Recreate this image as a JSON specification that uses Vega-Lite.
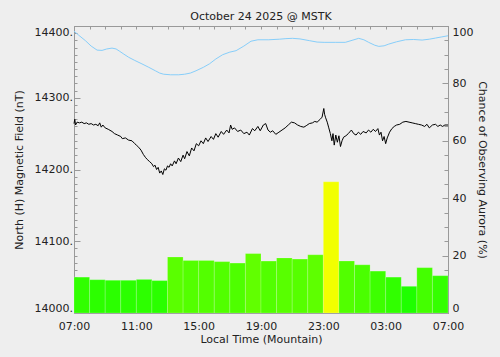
{
  "$schema": "https://vega.github.io/schema/vega-lite/v6.json",
  "width": 374,
  "height": 287,
  "autosize": {"type": "none"},
  "padding": {"left": 74, "top": 26, "right": 52, "bottom": 44},
  "background": "#eeeeee",
  "title": {"text": "October 24 2025 @ MSTK", "font": "DejaVu Sans", "fontSize": 11, "fontWeight": "normal", "color": "#222222", "anchor": "middle", "offset": 4},
  "config": {
    "view": {"stroke": null},
    "axis": {"labelFont": "DejaVu Sans", "titleFont": "DejaVu Sans", "labelFontSize": 11, "titleFontSize": 11, "titleFontWeight": "normal", "labelColor": "#222222", "titleColor": "#222222", "domainColor": "#999999", "tickColor": "#999999", "grid": false}
  },
  "datasets": {
    "bars": [
      {"h": 0, "h2": 1, "pct": 12.5}, {"h": 1, "h2": 2, "pct": 11.6}, {"h": 2, "h2": 3, "pct": 11.4}, {"h": 3, "h2": 4, "pct": 11.4},
      {"h": 4, "h2": 5, "pct": 11.7}, {"h": 5, "h2": 6, "pct": 11.3}, {"h": 6, "h2": 7, "pct": 19.5}, {"h": 7, "h2": 8, "pct": 18.3},
      {"h": 8, "h2": 9, "pct": 18.3}, {"h": 9, "h2": 10, "pct": 17.9}, {"h": 10, "h2": 11, "pct": 17.4}, {"h": 11, "h2": 12, "pct": 20.7},
      {"h": 12, "h2": 13, "pct": 18.1}, {"h": 13, "h2": 14, "pct": 19.2}, {"h": 14, "h2": 15, "pct": 18.8}, {"h": 15, "h2": 16, "pct": 20.3},
      {"h": 16, "h2": 17, "pct": 45.7}, {"h": 17, "h2": 18, "pct": 18.1}, {"h": 18, "h2": 19, "pct": 16.8}, {"h": 19, "h2": 20, "pct": 14.6},
      {"h": 20, "h2": 21, "pct": 12.5}, {"h": 21, "h2": 22, "pct": 9.3}, {"h": 22, "h2": 23, "pct": 15.8}, {"h": 23, "h2": 24, "pct": 13.0}
    ],
    "cyan": [
      {"h": 0, "pct": 98.2}, {"h": 0.3, "pct": 96.8}, {"h": 0.73, "pct": 94.9}, {"h": 1.1, "pct": 93.0}, {"h": 1.48, "pct": 91.6},
      {"h": 1.8, "pct": 91.5}, {"h": 2.1, "pct": 92.0}, {"h": 2.44, "pct": 92.3}, {"h": 2.7, "pct": 92.0}, {"h": 2.9, "pct": 91.3},
      {"h": 3.2, "pct": 90.2}, {"h": 3.51, "pct": 89.1}, {"h": 3.9, "pct": 88.0}, {"h": 4.36, "pct": 86.8}, {"h": 4.8, "pct": 85.6},
      {"h": 5.22, "pct": 84.4}, {"h": 5.5, "pct": 83.6}, {"h": 5.75, "pct": 83.2}, {"h": 6.2, "pct": 83.0}, {"h": 6.72, "pct": 83.0},
      {"h": 7.1, "pct": 83.2}, {"h": 7.47, "pct": 83.6}, {"h": 7.83, "pct": 84.4}, {"h": 8.3, "pct": 85.6}, {"h": 8.69, "pct": 86.8},
      {"h": 9.1, "pct": 88.5}, {"h": 9.54, "pct": 90.0}, {"h": 10.0, "pct": 90.9}, {"h": 10.4, "pct": 91.4}, {"h": 10.9, "pct": 93.0},
      {"h": 11.36, "pct": 94.7}, {"h": 11.8, "pct": 95.2}, {"h": 12.5, "pct": 95.2}, {"h": 13.18, "pct": 95.4}, {"h": 13.6, "pct": 95.6},
      {"h": 14.03, "pct": 95.7}, {"h": 14.5, "pct": 95.5}, {"h": 15.1, "pct": 94.9}, {"h": 15.6, "pct": 94.4}, {"h": 16.05, "pct": 94.3},
      {"h": 16.8, "pct": 94.3}, {"h": 17.41, "pct": 94.3}, {"h": 17.9, "pct": 95.1}, {"h": 18.27, "pct": 95.7}, {"h": 18.6, "pct": 95.2},
      {"h": 18.91, "pct": 94.3}, {"h": 19.3, "pct": 93.3}, {"h": 19.56, "pct": 92.9}, {"h": 19.9, "pct": 93.1}, {"h": 20.2, "pct": 93.7},
      {"h": 20.7, "pct": 94.5}, {"h": 21.27, "pct": 95.2}, {"h": 21.8, "pct": 95.3}, {"h": 22.34, "pct": 95.1}, {"h": 22.8, "pct": 95.4},
      {"h": 23.2, "pct": 95.8}, {"h": 23.6, "pct": 96.2}, {"h": 24, "pct": 96.6}
    ],
    "field": [
      {"h": 0.0, "nT": 14264}, {"h": 0.05, "nT": 14270}, {"h": 0.1, "nT": 14262}, {"h": 0.2, "nT": 14266}, {"h": 0.35, "nT": 14265},
      {"h": 0.5, "nT": 14266}, {"h": 0.65, "nT": 14264}, {"h": 0.8, "nT": 14265}, {"h": 0.95, "nT": 14263}, {"h": 1.1, "nT": 14264},
      {"h": 1.25, "nT": 14262}, {"h": 1.4, "nT": 14263}, {"h": 1.55, "nT": 14261}, {"h": 1.65, "nT": 14265}, {"h": 1.75, "nT": 14259},
      {"h": 1.85, "nT": 14262}, {"h": 2.0, "nT": 14258}, {"h": 2.2, "nT": 14256}, {"h": 2.44, "nT": 14253}, {"h": 2.6, "nT": 14250},
      {"h": 2.8, "nT": 14248}, {"h": 3.0, "nT": 14246}, {"h": 3.1, "nT": 14243}, {"h": 3.3, "nT": 14244}, {"h": 3.5, "nT": 14241},
      {"h": 3.72, "nT": 14240}, {"h": 3.9, "nT": 14236}, {"h": 4.0, "nT": 14234}, {"h": 4.15, "nT": 14231}, {"h": 4.3, "nT": 14227},
      {"h": 4.45, "nT": 14221}, {"h": 4.58, "nT": 14217}, {"h": 4.7, "nT": 14214}, {"h": 4.85, "nT": 14211}, {"h": 5.0, "nT": 14208},
      {"h": 5.1, "nT": 14204}, {"h": 5.2, "nT": 14206}, {"h": 5.3, "nT": 14200}, {"h": 5.4, "nT": 14203}, {"h": 5.5, "nT": 14195},
      {"h": 5.6, "nT": 14198}, {"h": 5.7, "nT": 14193}, {"h": 5.8, "nT": 14201}, {"h": 5.9, "nT": 14199}, {"h": 6.0, "nT": 14205},
      {"h": 6.1, "nT": 14203}, {"h": 6.2, "nT": 14208}, {"h": 6.3, "nT": 14205}, {"h": 6.45, "nT": 14212}, {"h": 6.55, "nT": 14208},
      {"h": 6.7, "nT": 14216}, {"h": 6.85, "nT": 14211}, {"h": 7.0, "nT": 14220}, {"h": 7.1, "nT": 14215}, {"h": 7.25, "nT": 14225},
      {"h": 7.4, "nT": 14219}, {"h": 7.55, "nT": 14230}, {"h": 7.7, "nT": 14226}, {"h": 7.85, "nT": 14236}, {"h": 8.0, "nT": 14233},
      {"h": 8.15, "nT": 14240}, {"h": 8.3, "nT": 14236}, {"h": 8.45, "nT": 14244}, {"h": 8.6, "nT": 14239}, {"h": 8.8, "nT": 14246},
      {"h": 8.95, "nT": 14242}, {"h": 9.1, "nT": 14250}, {"h": 9.25, "nT": 14245}, {"h": 9.45, "nT": 14253}, {"h": 9.6, "nT": 14249},
      {"h": 9.8, "nT": 14255}, {"h": 9.95, "nT": 14251}, {"h": 10.05, "nT": 14262}, {"h": 10.15, "nT": 14256}, {"h": 10.3, "nT": 14258},
      {"h": 10.5, "nT": 14253}, {"h": 10.7, "nT": 14255}, {"h": 10.9, "nT": 14250}, {"h": 11.1, "nT": 14252}, {"h": 11.25, "nT": 14248},
      {"h": 11.45, "nT": 14257}, {"h": 11.6, "nT": 14254}, {"h": 11.8, "nT": 14260}, {"h": 11.95, "nT": 14254}, {"h": 12.15, "nT": 14262},
      {"h": 12.3, "nT": 14264}, {"h": 12.45, "nT": 14255}, {"h": 12.6, "nT": 14252}, {"h": 12.75, "nT": 14254}, {"h": 12.95, "nT": 14249},
      {"h": 13.15, "nT": 14252}, {"h": 13.35, "nT": 14255}, {"h": 13.55, "nT": 14258}, {"h": 13.75, "nT": 14262}, {"h": 13.95, "nT": 14266},
      {"h": 14.15, "nT": 14265}, {"h": 14.35, "nT": 14262}, {"h": 14.55, "nT": 14260}, {"h": 14.75, "nT": 14259}, {"h": 14.9, "nT": 14261},
      {"h": 15.1, "nT": 14264}, {"h": 15.3, "nT": 14265}, {"h": 15.45, "nT": 14267}, {"h": 15.6, "nT": 14266}, {"h": 15.8, "nT": 14270},
      {"h": 15.92, "nT": 14273}, {"h": 16.03, "nT": 14285}, {"h": 16.08, "nT": 14277}, {"h": 16.15, "nT": 14272}, {"h": 16.25, "nT": 14266},
      {"h": 16.35, "nT": 14258}, {"h": 16.45, "nT": 14250}, {"h": 16.55, "nT": 14240}, {"h": 16.62, "nT": 14250}, {"h": 16.7, "nT": 14234},
      {"h": 16.8, "nT": 14248}, {"h": 16.9, "nT": 14238}, {"h": 17.0, "nT": 14247}, {"h": 17.1, "nT": 14232}, {"h": 17.2, "nT": 14240},
      {"h": 17.3, "nT": 14245}, {"h": 17.45, "nT": 14247}, {"h": 17.6, "nT": 14250}, {"h": 17.8, "nT": 14255}, {"h": 17.95, "nT": 14250},
      {"h": 18.1, "nT": 14248}, {"h": 18.25, "nT": 14252}, {"h": 18.4, "nT": 14249}, {"h": 18.55, "nT": 14253}, {"h": 18.75, "nT": 14251},
      {"h": 18.9, "nT": 14255}, {"h": 19.05, "nT": 14252}, {"h": 19.2, "nT": 14256}, {"h": 19.35, "nT": 14253}, {"h": 19.5, "nT": 14257},
      {"h": 19.6, "nT": 14248}, {"h": 19.7, "nT": 14252}, {"h": 19.8, "nT": 14240}, {"h": 19.9, "nT": 14246}, {"h": 20.0, "nT": 14236},
      {"h": 20.1, "nT": 14244}, {"h": 20.25, "nT": 14252}, {"h": 20.4, "nT": 14257}, {"h": 20.55, "nT": 14260}, {"h": 20.7, "nT": 14262},
      {"h": 20.9, "nT": 14263}, {"h": 21.1, "nT": 14266}, {"h": 21.3, "nT": 14267}, {"h": 21.5, "nT": 14266}, {"h": 21.7, "nT": 14265},
      {"h": 21.9, "nT": 14264}, {"h": 22.1, "nT": 14263}, {"h": 22.3, "nT": 14262}, {"h": 22.5, "nT": 14260}, {"h": 22.65, "nT": 14263},
      {"h": 22.8, "nT": 14258}, {"h": 23.0, "nT": 14262}, {"h": 23.2, "nT": 14263}, {"h": 23.35, "nT": 14260}, {"h": 23.5, "nT": 14262},
      {"h": 23.65, "nT": 14260}, {"h": 23.8, "nT": 14262}, {"h": 24.0, "nT": 14262}
    ]
  },
  "layer": [
    {
      "data": {"name": "bars"},
      "mark": {"type": "rect", "stroke": "#ffffff", "strokeOpacity": 0.3, "strokeWidth": 0.6},
      "encoding": {
        "x": {"field": "h", "type": "quantitative", "scale": {"domain": [0, 24], "nice": false},
          "axis": {"orient": "bottom", "values": [0, 4, 8, 12, 16, 20, 24], "ticks": false, "labelPadding": 7, "labelFlush": false,
            "labelExpr": "(((datum.value+7)%24)<10?'0':'')+((datum.value+7)%24)+':00'", "title": "Local Time (Mountain)", "titlePadding": 2}},
        "x2": {"field": "h2"},
        "y": {"field": "pct", "type": "quantitative", "scale": {"domain": [0, 100], "nice": false},
          "axis": {"orient": "right", "values": [0, 20, 40, 60, 80, 100], "tickSize": -6, "labelPadding": 10, "labelFlush": true,
            "title": "Chance of Observing Aurora (%)", "titleAngle": 90, "titlePadding": 4}},
        "y2": {"datum": 0},
        "color": {"field": "pct", "type": "quantitative", "scale": {"domain": [4, 48], "range": ["#00ff00", "#ffff00"], "interpolate": "rgb"}, "legend": null}
      }
    },
    {
      "data": {"name": "cyan"},
      "mark": {"type": "line", "color": "#87cefa", "strokeWidth": 1},
      "encoding": {
        "x": {"field": "h", "type": "quantitative", "scale": {"domain": [0, 24], "nice": false},
          "axis": {"orient": "top", "values": [0, 1, 2, 3, 4, 5, 6, 7, 8, 9, 10, 11, 12, 13, 14, 15, 16, 17, 18, 19, 20, 21, 22, 23, 24], "labels": false, "tickSize": -3, "title": null}},
        "y": {"field": "pct", "type": "quantitative", "scale": {"domain": [0, 100], "nice": false},
          "axis": {"orient": "right", "values": [5, 10, 15, 25, 30, 35, 45, 50, 55, 65, 70, 75, 85, 90, 95], "labels": false, "tickSize": -4, "title": null}}
      }
    },
    {
      "data": {"name": "field"},
      "mark": {"type": "line", "color": "#000000", "strokeWidth": 1},
      "encoding": {
        "x": {"field": "h", "type": "quantitative", "scale": {"domain": [0, 24], "nice": false}, "axis": null},
        "y": {"field": "nT", "type": "quantitative", "scale": {"domain": [14000, 14400], "nice": false, "zero": false},
          "axis": {"orient": "left", "values": [14000, 14100, 14200, 14300, 14400], "tickSize": -6, "labelPadding": 7.5, "labelFlush": true,
            "labelExpr": "datum.value + '.'", "title": "North (H) Magnetic Field (nT)", "titlePadding": 10}}
      }
    },
    {
      "data": {"name": "field"},
      "mark": {"type": "point", "opacity": 0},
      "encoding": {
        "x": {"field": "h", "type": "quantitative", "scale": {"domain": [0, 24], "nice": false}, "axis": null},
        "y": {"field": "nT", "type": "quantitative", "scale": {"domain": [14000, 14400], "nice": false, "zero": false},
          "axis": {"orient": "left", "values": [14010, 14020, 14030, 14040, 14050, 14060, 14070, 14080, 14090, 14110, 14120, 14130, 14140, 14150, 14160, 14170, 14180, 14190, 14210, 14220, 14230, 14240, 14250, 14260, 14270, 14280, 14290, 14310, 14320, 14330, 14340, 14350, 14360, 14370, 14380, 14390], "labels": false, "tickSize": -3, "title": null}}
      }
    }
  ],
  "resolve": {"scale": {"y": "independent"}, "axis": {"x": "independent", "y": "independent"}}
}
